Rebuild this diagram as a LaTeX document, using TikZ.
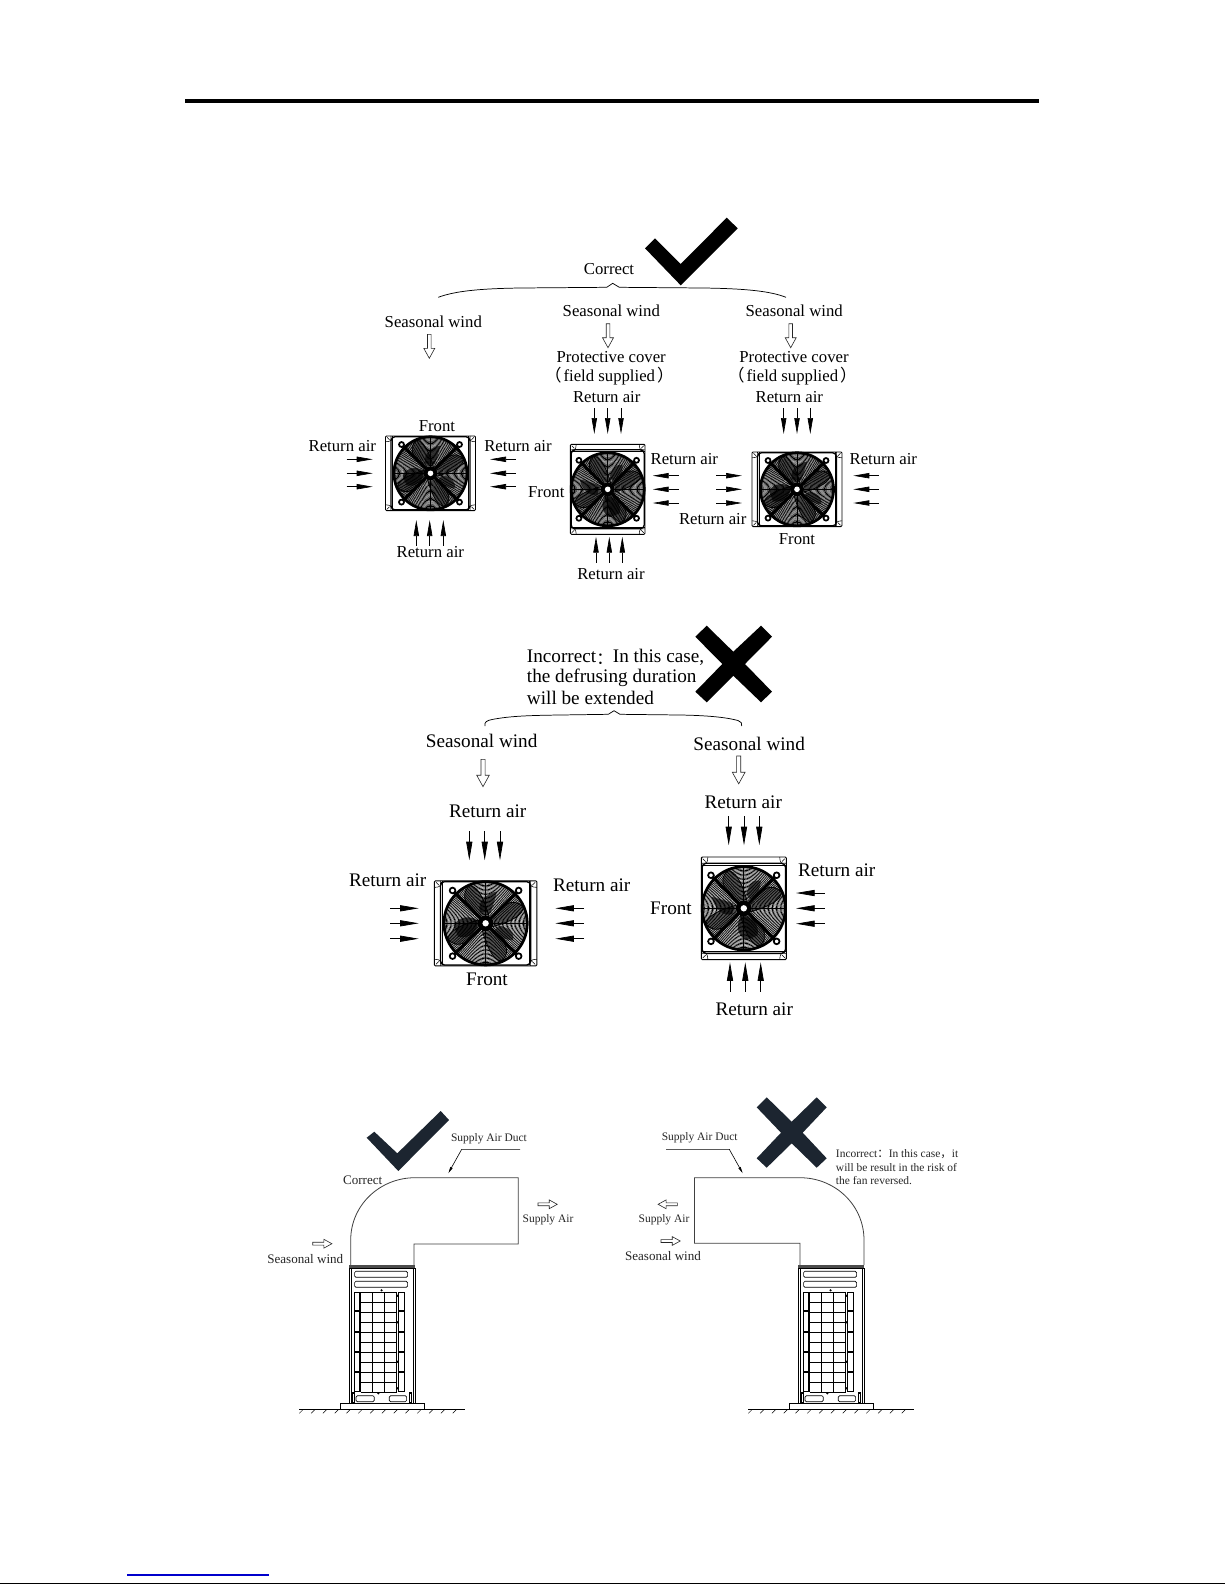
\documentclass[tikz,border=0pt]{standalone}
\usepackage{fontspec}
\setmainfont{Liberation Serif}
\newfontfamily\cjk{Noto Sans CJK SC}
\usetikzlibrary{arrows.meta}
\definecolor{navy}{HTML}{1C2530}
\newcommand{\wcolon}{\raisebox{-.08em}{\fontsize{12.5}{14}\selectfont\cjk：}}
\newcommand{\fsupp}{{\cjk（}\hspace{.12em}field supplied\hspace{.12em}{\cjk）}}
\tikzset{
 tA/.style={font=\fontsize{12.55}{14}\selectfont,anchor=base,inner sep=0pt},
 tB/.style={font=\fontsize{14.4}{16}\selectfont,anchor=base,inner sep=0pt},
 tC/.style={font=\fontsize{8.6}{10}\selectfont,anchor=base,inner sep=0pt,text=black!85},
 tD/.style={font=\fontsize{9.8}{11}\selectfont,anchor=base,inner sep=0pt,text=black!85},
 air/.style={line width=.5pt,-{Stealth[length=12pt,width=4pt,inset=0pt]}},
 airB/.style={line width=.55pt,-{Stealth[length=14pt,width=4.6pt,inset=0pt]}},
 brace/.style={line width=.55pt},
 hol/.style={line width=.45pt,fill=white,draw=black!85},
 duct/.style={line width=.6pt,draw=black!75},
 lead/.style={line width=.45pt,-{Stealth[length=5pt,width=1.8pt,inset=0pt]}},
 unitl/.style={line width=.5pt},
}
% fan unit: cx cy scale rotation
\newcommand{\fanunit}[4]{%
\begin{scope}[shift={(#1,#2)},rotate=#4,scale=#3]
 \draw[line width=.7pt,rounded corners=.8pt] (-45,-37.3) rectangle (45,37.3);
 \draw[line width=1pt,rounded corners=3pt] (-39.5,-36.6) rectangle (39.5,36.6);
 \draw[line width=.5pt] (-38,-37)--(-38,37) (38,-37)--(38,37);
 \foreach \sx in {-1,1}\foreach \sy in {-1,1}{
  \draw[line width=.4pt] (\sx*45,\sy*31.5) .. controls (\sx*39.5,\sy*32) .. (\sx*39.5,\sy*37.3);
  \draw[line width=.4pt] (\sx*43.5,\sy*36) -- (\sx*41,\sy*33.5);
  \draw[line width=2.3pt] (0,0) -- (\sx*28.5,\sy*28.3);
  \fill[white,draw=black,line width=1.3pt] (\sx*29,\sy*28.8) circle (2.5);
 }
 \begin{scope}
  \clip (0,0) circle (36.5);
  \foreach \r in {8,9.15,...,36}{\draw[line width=.5pt] (0,0) circle (\r);}
  \foreach \a in {0,90,180,270}{
   \fill[black,opacity=.5,rotate=\a] (4,-3) .. controls (14,-16) and (24,-24) .. (33,-14) .. controls (33,-8) and (24,-2) .. (6,3) -- cycle;
   \draw[line width=.6pt,rotate=\a] (4,-3) .. controls (14,-16) and (24,-24) .. (33,-14) .. controls (33,-8) and (24,-2) .. (6,3);
  }
  \fill[black,opacity=.7] (-28,2) .. controls (-22,-8) and (-12,-6) .. (-6,-2) .. controls (-8,8) and (-14,14) .. (-24,12) -- cycle;
  \fill[black,opacity=.65] (12,2) .. controls (20,4) and (26,8) .. (24,15) .. controls (16,14) and (10,12) .. (8,6) -- cycle;
  \fill[black,opacity=.65] (-5,-10) .. controls (-8,-20) and (2,-26) .. (10,-28) .. controls (8,-20) and (6,-14) .. (4,-9) -- cycle;
 \end{scope}
 \draw[line width=.55pt] (-36,0) -- (36,0) (0,-36) -- (0,36);
 \draw[line width=2.1pt] (0,0) circle (36.5);
 \fill[black] (0,0) circle (7);
 \fill[white] (0,0) circle (2.8);
\end{scope}}
% hollow arrow: tail x y rotation scale
\newcommand{\hollowarrow}[4]{%
\path[hol,shift={(#1,#2)},rotate=#3,scale=#4] (-1.8,0) -- (-1.8,14) -- (-5.5,14) -- (0,24) -- (5.5,14) -- (1.8,14) -- (1.8,0) -- cycle;}
% outdoor unit: left x of body
\newcommand{\outdoor}[1]{%
\begin{scope}[shift={(#1,1265)}]
 \fill[black!70] (0,0) rectangle (66,3.6);
 \draw[unitl,line width=.7pt] (0,3.6) rectangle (66,138.3);
 \draw[unitl] (1.7,3.6)--(1.7,138.3) (64.3,3.6)--(64.3,138.3);
 \draw[unitl,rounded corners=1pt] (5.3,6.3) rectangle (58.3,12.3);
 \draw[unitl,rounded corners=1pt] (5.3,16.3) rectangle (58.3,22.3);
 \foreach \a/\b in {27.3/45,46.7/66.7,67.3/86.7,87.7/106.7,107.7/126.7}{
  \draw[unitl] (5,\a) rectangle (10,\b);
  \draw[unitl] (49.5,\a) rectangle (54.7,\b);
 }
 \draw[line width=1.1pt] (11.3,27.3)--(11.3,126.7);
 \foreach \u in {23.3,35.3,47.3}{\draw[line width=.8pt] (\u,27.3)--(\u,126.7);}
 \foreach \v in {27.3,37.3,...,127.3}{\draw[line width=.8pt] (11.3,\v)--(47.3,\v);}
 \foreach \u/\v in {32.3/25.3,48.3/30.7,48.3/57.3,48.3/96.7,48.3/123.3,29/128.3}{\fill (\u,\v) circle (1.2);}
 \draw[unitl,rounded corners=1pt] (6.7,130.7) rectangle (25,136.7);
 \draw[unitl,rounded corners=1pt] (40,130.7) rectangle (57.3,136.7);
 \draw[line width=.8pt] (3.6,128) rectangle (5.4,137.5);
 \draw[line width=.8pt] (60.5,128) rectangle (62.3,137.5);
 \draw[unitl] (-8.7,138.3) rectangle (74.7,144.3);
 \draw[line width=.35pt] (-50,144.3) -- (115.5,144.3);
 \foreach \u in {-50,-38.2,...,112}{\draw[line width=.35pt] (\u,148.3) -- (\u+4,144.3);}
\end{scope}}
\begin{document}
\begin{tikzpicture}[x=.75pt,y=-.75pt]
\useasboundingbox (0,0) rectangle (1225,1585);
\fill[white] (0,0) rectangle (1225,1585);
% page furniture
\draw[line width=2.3pt] (185,101) -- (1039,101);
\draw[line width=.9pt,color={rgb,255:red,0;green,0;blue,204}] (127,1575) -- (269,1575);
\draw[line width=.9pt] (0,1583.7) -- (1225,1583.7);
% --- CORRECT GROUP ---
\fill[black] (645,248.3) -- (655,238.3) -- (680.7,264) -- (726.7,217.7) -- (737.7,228.3) -- (680.7,285.3) -- cycle;
\draw[brace] (438.3,297.3) .. controls (455,291) and (480,288.6) .. (520,288) -- (606.7,287.3) -- (612.7,283.3) -- (619.3,287.3) -- (703.3,288) .. controls (745,288.6) and (770,291) .. (786,297.3);
\node[tA] (cor) at (609,274.7) {Correct};
\node[tA] (sw1) at (433.3,327) {Seasonal wind};
\node[tA] (sw2) at (611.3,316.3) {Seasonal wind};
\node[tA] (sw3) at (794.2,316.3) {Seasonal wind};
\hollowarrow{429.3}{334.3}{0}{1}
\hollowarrow{608}{323.7}{0}{1}
\hollowarrow{790.7}{323.7}{0}{1}
\node[tA] (pc2) at (611.2,362) {Protective cover};
\node[tA] (pc3) at (794,362) {Protective cover};
\node[tA] (fs2) at (609.3,381) {\fsupp};
\node[tA] (fs3) at (792.4,381) {\fsupp};
\node[tA] (ra1) at (606.7,402.3) {Return air};
\node[tA] (ra2) at (789.3,402.3) {Return air};
\node[tA] (fr1) at (437,431.7) {Front};
\node[tA] (ra3) at (342.3,451) {Return air};
\node[tA] (ra4) at (518,451) {Return air};
\node[tA] (ra5) at (430.3,557.7) {Return air};
\node[tA] (fr2) at (546.3,497.3) {Front};
\node[tA] (ra6) at (611,579) {Return air};
\node[tA] (ra7) at (684.3,464) {Return air};
\node[tA] (ra8) at (883.3,464) {Return air};
\node[tA] (ra9) at (712.7,524.3) {Return air};
\node[tA] (fr3) at (797,544.3) {Front};
\fanunit{430.5}{473.3}{1}{0}
\fanunit{607.7}{489.3}{1}{90}
\fanunit{797}{489.3}{1}{0}
\foreach \y in {459.3,473.3,486.7}{
 \draw[air] (346.7,\y) -- (372.7,\y);
 \draw[air] (515.7,\y) -- (490,\y);}
\foreach \x in {416.3,429.7,443.3}{\draw[air] (\x,545.7) -- (\x,520);}
\foreach \x in {594.3,607.7,621}{\draw[air] (\x,408) -- (\x,434);}
\foreach \x in {596,609.3,622.3}{\draw[air] (\x,562.7) -- (\x,536.7);}
\foreach \y in {475.7,489.3,503}{
 \draw[air] (678.7,\y) -- (652.7,\y);
 \draw[air] (716,\y) -- (742,\y);
 \draw[air] (878.7,\y) -- (853.3,\y);}
\foreach \x in {783.7,797,810.3}{\draw[air] (\x,408) -- (\x,434);}
% --- INCORRECT GROUP ---
\fill[black] (706.7,625.7) -- (733.3,651.7) -- (761,625.7) -- (772,636.7) -- (745,664) -- (772,691.7) -- (761,702.3) -- (733.3,675.7) -- (706.7,702.3) -- (695.3,691.7) -- (722.3,664) -- (695.3,636.7) -- cycle;
\node[tB,anchor=base west] (inc1) at (526.7,662.7) {Incorrect\wcolon In this case,};
\node[tB,anchor=base west] (inc2) at (526.7,682.7) {the defrusing duration};
\node[tB,anchor=base west] (inc3) at (526.7,704.3) {will be extended};
\draw[brace] (485,726) .. controls (484,722) and (487,720.5) .. (492,719.5) .. controls (510,716) and (530,715.4) .. (560,715) -- (608.3,714.3) -- (614,710.7) -- (620,714.3) -- (680,715) .. controls (705,715.4) and (725,717) .. (738,720.5) .. controls (741,721.5) and (742.5,723.5) .. (741.7,726);
\node[tB] (sw4) at (481.7,747.3) {Seasonal wind};
\node[tB] (sw5) at (749.2,750) {Seasonal wind};
\hollowarrow{483}{759.3}{0}{1.14}
\hollowarrow{738.7}{756}{0}{1.16}
\node[tB] (rb1) at (487.7,817.3) {Return air};
\node[tB] (rb2) at (387.7,886.7) {Return air};
\node[tB] (rb3) at (591.7,891.7) {Return air};
\node[tB] (fr4) at (487,985) {Front};
\node[tB] (rb4) at (743.3,808.3) {Return air};
\node[tB] (rb5) at (836.7,876) {Return air};
\node[tB] (fr5) at (671,914.3) {Front};
\node[tB] (rb6) at (754.3,1015.3) {Return air};
\fanunit{485.6}{923.3}{1.14}{0}
\fanunit{743.8}{908.3}{1.14}{90}
\foreach \y in {908.3,923.3,938.7}{
 \draw[airB] (390,\y) -- (418.7,\y);
 \draw[airB] (584,\y) -- (555.3,\y);}
\foreach \x in {469.3,484.7,500}{\draw[airB] (\x,831) -- (\x,860.3);}
\foreach \x in {728.7,744,759.3}{\draw[airB] (\x,816) -- (\x,845.3);}
\foreach \y in {893,908.3,923.7}{\draw[airB] (824.7,\y) -- (796,\y);}
\foreach \x in {730,745.3,760.7}{\draw[airB] (\x,991.7) -- (\x,962.3);}
% --- DUCT, LEFT ---
\fill[navy] (366.7,1137.7) -- (374.3,1131.7) -- (397.3,1153.3) -- (440.7,1111) -- (449,1120) -- (398.3,1171) -- cycle;
\draw[duct] (350.7,1265) -- (350.7,1240) .. controls (350.7,1205) and (380,1177.7) .. (415,1177.7) -- (518.3,1177.7) -- (518.3,1244) -- (414,1244) -- (414,1265);
\outdoor{349.3}
\node[tD] (cd1) at (362.7,1184) {Correct};
\node[tC] (sd1) at (489,1141.7) {Supply Air Duct};
\coordinate (la) at (520,1149.3);
\coordinate (lb) at (461.7,1149.3);
\coordinate (lc) at (448.3,1173.3);
\draw[lead] (la) -- (lb) -- (lc);
\node[tC] (sa1) at (548,1222) {Supply Air};
\node[tD] (sw6) at (305.3,1263) {Seasonal wind};
\hollowarrow{312.7}{1243.7}{90}{.8}
\hollowarrow{538}{1204.3}{90}{.8}
% --- DUCT, RIGHT ---
\fill[navy] (766.7,1097.3) -- (791.7,1121.7) -- (816.7,1097.3) -- (826.7,1107.3) -- (802.7,1132.7) -- (826.7,1158.3) -- (816.7,1167.7) -- (791.7,1143.3) -- (766.7,1167.7) -- (756.7,1158.3) -- (781,1132.7) -- (756.7,1107.3) -- cycle;
\draw[duct] (864,1265) -- (864,1240) .. controls (864,1205) and (835,1177.7) .. (800,1177.7) -- (694.5,1177.7) -- (694.5,1243.3) -- (800,1243.3) -- (800,1265);
\outdoor{798.3}
\node[tC] (sd2) at (699.7,1140.7) {Supply Air Duct};
\coordinate (ra) at (666,1149.3);
\coordinate (rb) at (729.3,1149.3);
\coordinate (rc) at (742.7,1173.3);
\draw[lead] (ra) -- (rb) -- (rc);
\node[tC] (sa2) at (664,1222) {Supply Air};
\node[tD] (sw7) at (663,1260) {Seasonal wind};
\hollowarrow{677.3}{1204.3}{-90}{.8}
\hollowarrow{661}{1241}{90}{.8}
\node[tC,anchor=base west] (ic1) at (835.7,1157.7) {Incorrect{\cjk：}In this case{\cjk，}it};
\node[tC,anchor=base west] (ic2) at (835.7,1171) {will be result in the risk of};
\node[tC,anchor=base west] (ic3) at (835.7,1184.3) {the fan reversed.};
\end{tikzpicture}
\end{document}
